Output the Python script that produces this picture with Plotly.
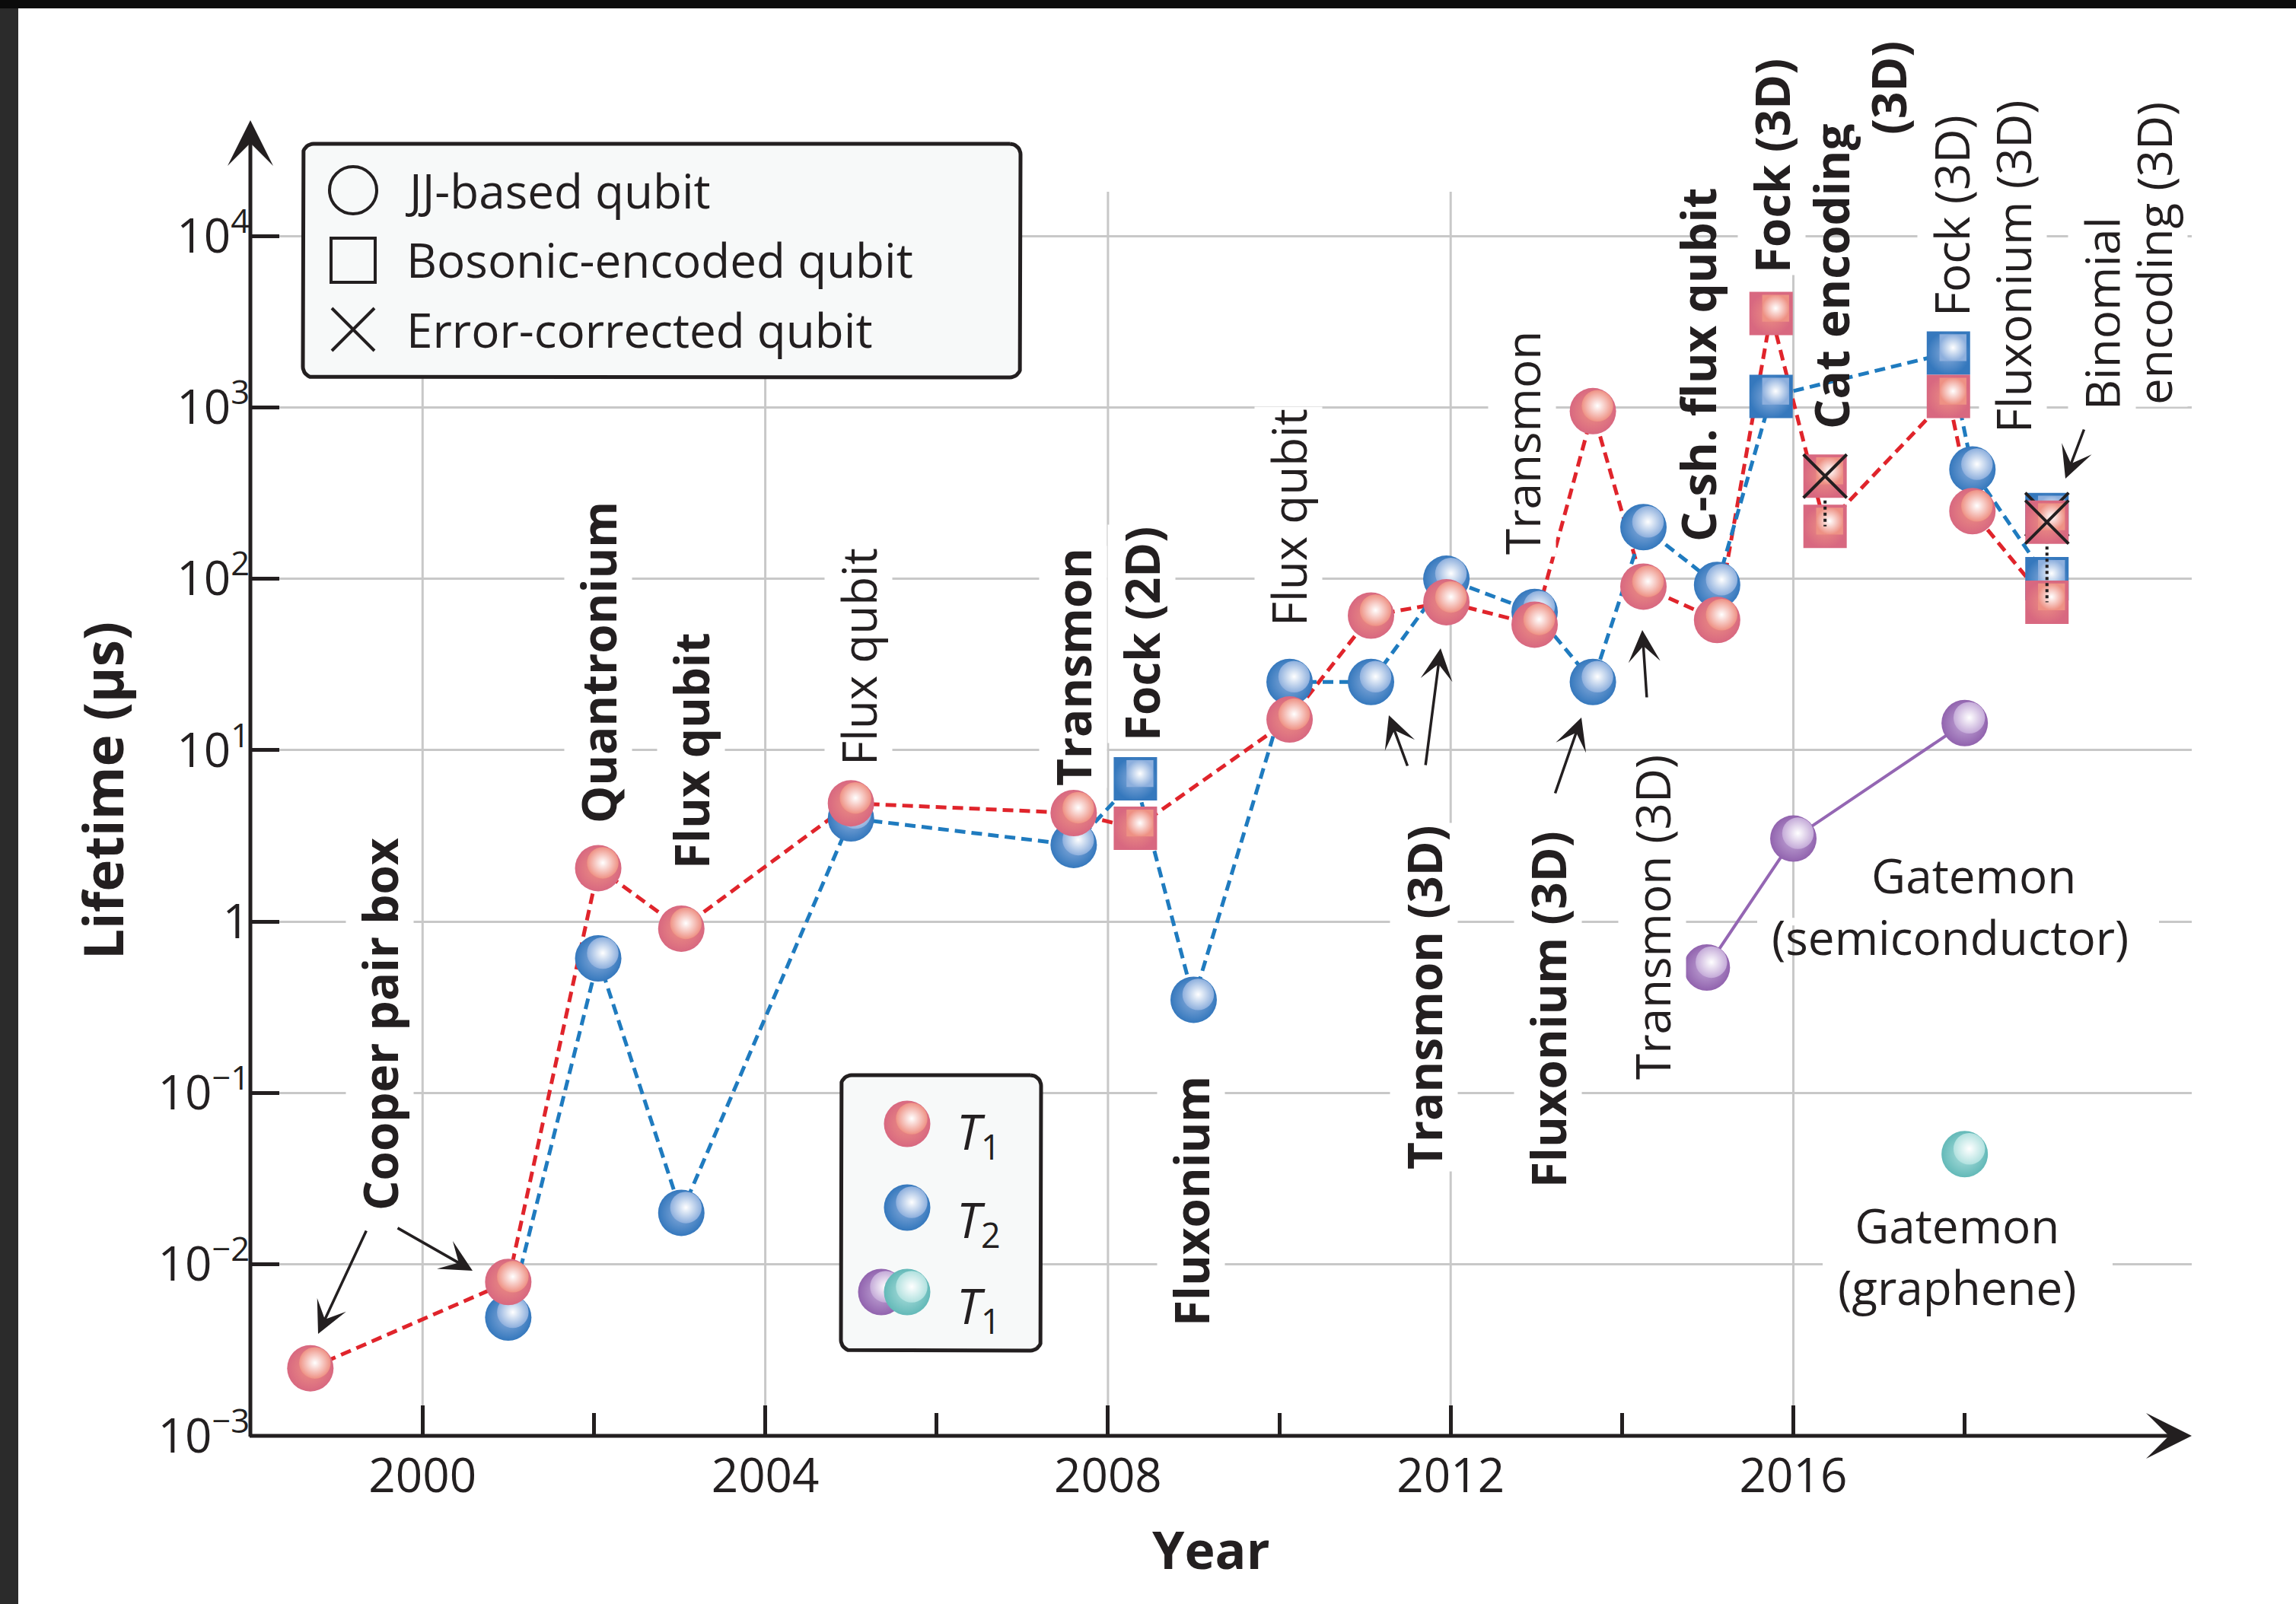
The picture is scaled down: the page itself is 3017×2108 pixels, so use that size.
import numpy as np
import plotly.graph_objects as go

# ---------------- data ----------------
# T1 of Josephson-junction based qubits (red spheres)
t1_jj_year = [1998.69, 2001.00, 2002.05, 2003.02, 2005.00, 2007.60, 2010.12, 2011.07,
              2011.95, 2012.98, 2013.66, 2014.25, 2015.11, 2018.09]
t1_jj = [0.00248, 0.0079, 2.05, 0.91, 4.9, 4.3, 15.1, 61, 73, 54, 950, 90, 57.5, 248]
# T2 of JJ-based qubits (blue spheres)
t2_jj_year = [2001.00, 2002.05, 2003.02, 2005.00, 2007.60, 2009.00, 2010.12, 2011.07,
              2011.95, 2012.98, 2013.66, 2014.25, 2015.11, 2018.09]
t2_jj = [0.0049, 0.61, 0.020, 4.0, 2.8, 0.35, 25, 25, 100, 64, 25, 200, 92, 434]
# bosonic-encoded qubits (squares)
t1_bos_year = [2008.32, 2015.74, 2016.37, 2017.81, 2018.96]
t1_bos = [3.5, 3525, 202, 1157, 73]
t2_bos_year = [2008.32, 2015.74, 2017.81, 2018.96]
t2_bos = [6.8, 1157, 2075, 100]
# error-corrected qubits (squares with a cross)
t1_ec_year = [2016.37, 2018.96]
t1_ec = [397, 214]
t2_ec_year = [2018.96]
t2_ec = [237]
# gatemons
gate_semi_year = [2014.99, 2016.00, 2018.00]
gate_semi = [0.54, 3.05, 14.4]
gate_gr_year = [2018.00]
gate_gr = [0.044]

x_tick_years = [2000, 2004, 2008, 2012, 2016]
x_minor_years = [2002, 2006, 2010, 2014, 2018]
y_tick_vals = [1e-3, 1e-2, 1e-1, 1, 1e1, 1e2, 1e3, 1e4]
y_tick_text = ["10<sup>\u22123</sup>", "10<sup>\u22122</sup>", "10<sup>\u22121</sup>", "1",
               "10<sup>1</sup>", "10<sup>2</sup>", "10<sup>3</sup>", "10<sup>4</sup>"]

# ---------------- layout constants ----------------
W, H = 3017, 2108
L, R, T, B = 329, 137, 158, 221
PW, PH = W - L - R, H - T - B
XR = [1997.99, 2020.65]
YR = [-3.0, 4.675]
PX_YEAR = PW / (XR[1] - XR[0])
PX_DEC = PH / (YR[1] - YR[0])
FONT = "Open Sans, Noto Sans, sans-serif"
INK = "#231f20"
GRID = "#c8c8c8"
RED_LINE, BLUE_LINE, PURPLE_LINE = "#e0242b", "#1f7bbf", "#9466b3"
RED = ("#d86880", "#ee9184")
BLUE = ("#3578bd", "#8dafdd")
PURPLE = ("#9163ae", "#c4aad8")
TEAL = ("#63b9b8", "#b1e1df")


def paper(X, Y):
    return (X - L) / PW, (H - B - Y) / PH


fig = go.Figure()


def add_ball(x, y, colors, symbol="circle", size=61, axes=("x", "y")):
    edge, mid = colors
    xa, ya = axes
    if xa == "x":
        hx = [v + 6 / PX_YEAR for v in x]
        hy = [v * 10 ** (7 / PX_DEC) for v in y]
    else:
        hx = [v + 6 for v in x]
        hy = [v - 7 for v in y]
    fig.add_trace(go.Scatter(x=x, y=y, mode="markers", xaxis=xa, yaxis=ya,
                             marker=dict(symbol=symbol, size=size, color=edge,
                                         gradient=dict(type="radial", color=mid), line=dict(width=0)),
                             hoverinfo="skip", showlegend=False))
    fig.add_trace(go.Scatter(x=hx, y=hy, mode="markers", xaxis=xa, yaxis=ya,
                             marker=dict(symbol=symbol, size=size * (0.68 if symbol == "circle" else 0.62),
                                         color=mid, gradient=dict(type="radial", color="white"),
                                         line=dict(width=0)),
                             hoverinfo="skip", showlegend=False))


def merged(ay, av, by, bv):
    pts = sorted(zip(ay + by, av + bv))
    return [p[0] for p in pts], [p[1] for p in pts]


# ---- legend boxes (pixel overlay axes) ----
def rrect(x0, y0, x1, y1, r, n=10):
    xs, ys = [], []
    for cx, cy, a0, a1 in [(x1 - r, y0 + r, -90, 0), (x1 - r, y1 - r, 0, 90),
                           (x0 + r, y1 - r, 90, 180), (x0 + r, y0 + r, 180, 270)]:
        t = np.radians(np.linspace(a0, a1, n))
        xs += list(cx + r * np.cos(t))
        ys += list(cy + r * np.sin(t))
    xs.append(xs[0]); ys.append(ys[0])
    return xs, ys


for box in [(398, 189, 1341, 496), (1105, 1413, 1368, 1775)]:
    bx, by = rrect(*box, 14)
    fig.add_trace(go.Scatter(x=bx, y=by, mode="lines", fill="toself", fillcolor="#f7f9f9",
                             line=dict(color=INK, width=5), xaxis="x2", yaxis="y2",
                             hoverinfo="skip", showlegend=False))

# ---- data lines ----
lx, ly = merged(t1_jj_year, t1_jj, t1_bos_year, t1_bos)
fig.add_trace(go.Scatter(x=lx, y=ly, mode="lines", line=dict(color=RED_LINE, width=5, dash="14px,8px"),
                         hoverinfo="skip", showlegend=False))
lx, ly = merged(t2_jj_year, t2_jj, t2_bos_year, t2_bos)
fig.add_trace(go.Scatter(x=lx, y=ly, mode="lines", line=dict(color=BLUE_LINE, width=5, dash="14px,8px"),
                         hoverinfo="skip", showlegend=False))
fig.add_trace(go.Scatter(x=gate_semi_year, y=gate_semi, mode="lines", line=dict(color=PURPLE_LINE, width=4),
                         hoverinfo="skip", showlegend=False))

# ---- markers ----
add_ball(t2_jj_year, t2_jj, BLUE)
add_ball(t2_bos_year, t2_bos, BLUE, symbol="square", size=57)
add_ball(t1_jj_year, t1_jj, RED)
add_ball(t1_bos_year, t1_bos, RED, symbol="square", size=57)
add_ball(gate_semi_year, gate_semi, PURPLE)
add_ball(gate_gr_year, gate_gr, TEAL)

# dotted connectors between error-corrected and bare encodings
cx, cy = [], []
for yr, v in zip(t1_ec_year, t1_ec):
    j = t1_bos_year.index(yr)
    cx += [yr, yr, None]
    cy += [v, t1_bos[j], None]
fig.add_trace(go.Scatter(x=cx, y=cy, mode="lines", line=dict(color=INK, width=4, dash="dot"),
                         hoverinfo="skip", showlegend=False))

X_MARK = dict(symbol="x-thin", size=57, color=INK, line=dict(width=4, color=INK))
add_ball(t2_ec_year, t2_ec, BLUE, symbol="square", size=57)
fig.add_trace(go.Scatter(x=t2_ec_year, y=t2_ec, mode="markers", marker=X_MARK,
                         hoverinfo="skip", showlegend=False))
add_ball(t1_ec_year, t1_ec, RED, symbol="square", size=57)
fig.add_trace(go.Scatter(x=t1_ec_year, y=t1_ec, mode="markers", marker=X_MARK,
                         hoverinfo="skip", showlegend=False))

# ---- legend keys ----
fig.add_trace(go.Scatter(x=[464], y=[250], mode="markers", xaxis="x2", yaxis="y2",
                         marker=dict(symbol="circle-open", size=62, color=INK, line=dict(width=4, color=INK)),
                         hoverinfo="skip", showlegend=False))
fig.add_trace(go.Scatter(x=[464], y=[342], mode="markers", xaxis="x2", yaxis="y2",
                         marker=dict(symbol="square-open", size=58, color=INK, line=dict(width=4, color=INK)),
                         hoverinfo="skip", showlegend=False))
fig.add_trace(go.Scatter(x=[464], y=[433], mode="markers", xaxis="x2", yaxis="y2",
                         marker=dict(symbol="x-thin", size=56, color=INK, line=dict(width=4, color=INK)),
                         hoverinfo="skip", showlegend=False))
add_ball([1192], [1477], RED, axes=("x2", "y2"))
add_ball([1192], [1587], BLUE, axes=("x2", "y2"))
add_ball([1158], [1698], PURPLE, axes=("x2", "y2"))
add_ball([1192], [1698], TEAL, axes=("x2", "y2"))

# ---------------- annotations ----------------
ann = []


def label(text, X, Y, bold=False, angle=-90, size=62, bg=True, xanchor="center"):
    xp, yp = paper(X, Y)
    ann.append(dict(text=f"<b>{text}</b>" if bold else text, x=xp, y=yp, xref="paper", yref="paper",
                    showarrow=False, textangle=angle, xanchor=xanchor, yanchor="middle",
                    font=dict(size=size, family=FONT, color=INK),
                    bgcolor="white" if bg else "rgba(0,0,0,0)", borderpad=2))


def arrow(hx, hy, tx, ty, width=3.5, size=2.0):
    xp, yp = paper(hx, hy)
    ann.append(dict(text="", x=xp, y=yp, xref="paper", yref="paper", showarrow=True,
                    ax=tx - hx, ay=ty - hy, axref="pixel", ayref="pixel",
                    arrowhead=3, arrowsize=size, arrowwidth=width, arrowcolor=INK, standoff=0))


rot_labels = [
    ("Cooper pair box", 499, 1346, True, True),
    ("Quantronium", 786, 871, True, True),
    ("Flux qubit", 908, 987, True, True),
    ("Flux qubit", 1128, 863, False, True),
    ("Transmon", 1410, 877, True, True),
    ("Fock (2D)", 1500, 833, True, True),
    ("Fluxonium", 1565, 1579, True, True),
    ("Flux qubit", 1693, 680, False, True),
    ("Transmon (3D)", 1871, 1311, True, True),
    ("Transmon", 2000, 582, False, True),
    ("Fluxonium (3D)", 2034, 1327, True, True),
    ("Transmon (3D)", 2171, 1206, False, True),
    ("C-sh. flux qubit", 2231, 480, True, False),
    ("Fock (3D)", 2328, 218, True, True),
    ("Cat encoding", 2406, 363, True, False),
    ("(3D)", 2481, 116, True, True),
    ("Fock (3D)", 2564, 284, False, True),
    ("Fluxonium (3D)", 2645, 350, False, True),
    ("Binomial", 2762, 412, False, True),
    ("encoding (3D)", 2830, 333, False, True),
]
for txt, X, Y, bold, bg in rot_labels:
    label(txt, X, Y, bold=bold, bg=bg)

label("\u2003Gatemon<br>(semiconductor)", 2562, 1190, angle=0, bg=False)
label("Gatemon<br>(graphene)", 2572, 1650, angle=0, bg=False)

for hx, hy, tx, ty in [(418, 1753, 482, 1616), (621, 1670, 521, 1613), (1825, 940, 1850, 1008),
                       (1893, 852, 1873, 1007), (2078, 943, 2043, 1044), (2158, 828, 2164, 918),
                       (2714, 629, 2739, 563)]:
    arrow(hx, hy, tx, ty)

# axes with arrowheads
arrow(L, T, L, H - B + 2.5, width=5, size=2.0)
arrow(L + PW, H - B, L - 2.5, H - B, width=5, size=2.0)

# axis titles
label("Lifetime (\u03bcs)", 134, 1039, bold=True, size=71, bg=False)
label("Year", 1591, 2035, bold=True, angle=0, size=68, bg=False)

# legend texts
for txt, X, Y in [("JJ-based qubit", 530, 250), ("Bosonic-encoded qubit", 531, 341),
                  ("Error-corrected qubit", 531, 433)]:
    label(txt, X, Y, angle=0, bg=False, xanchor="left")
for txt, X, Y in [("<i>T</i><sub>1</sub>", 1254, 1490), ("<i>T</i><sub>2</sub>", 1254, 1606),
                  ("<i>T</i><sub>1</sub>", 1254, 1719)]:
    label(txt, X, Y, angle=0, bg=False, xanchor="left", size=64)

# ---------------- shapes: vertical gridlines, gridline breaks, dark frame ----------------
shapes = []
for yr in x_tick_years:
    shapes.append(dict(type="line", xref="x", yref="paper", x0=yr, x1=yr, y0=0,
                       y1=(H - B - 252) / PH, line=dict(color=GRID, width=3), layer="below"))
for X0, X1, Yc in [(2309, 2837, 1211.2), (2395, 2776, 1661.7)]:
    a0, b0 = paper(X0, Yc + 5)
    a1, b1 = paper(X1, Yc - 5)
    shapes.append(dict(type="rect", xref="paper", yref="paper", x0=a0, x1=a1, y0=b0, y1=b1,
                       fillcolor="white", line=dict(width=0), layer="above"))
x0p, _ = paper(0, 0)
x1p, _ = paper(W, 0)
xl, _ = paper(24, 0)
_, ytop = paper(0, 0)
_, ystrip = paper(0, 11)
_, ybot = paper(0, H)
shapes.append(dict(type="rect", xref="paper", yref="paper", x0=x0p, x1=xl, y0=ybot, y1=ytop,
                   fillcolor="#2b2b2b", line=dict(width=0), layer="above"))
shapes.append(dict(type="rect", xref="paper", yref="paper", x0=x0p, x1=x1p, y0=ystrip, y1=ytop,
                   fillcolor="#0b0b0b", line=dict(width=0), layer="above"))

fig.update_layout(
    width=W, height=H, autosize=False,
    margin=dict(l=L, r=R, t=T, b=B, pad=0),
    paper_bgcolor="white", plot_bgcolor="white", showlegend=False,
    font=dict(family=FONT, color=INK, size=62),
    annotations=ann, shapes=shapes,
    xaxis=dict(range=XR, showgrid=False, zeroline=False, showline=False, ticks="inside",
               tickvals=x_tick_years, ticktext=[str(v) for v in x_tick_years],
               ticklen=40, tickwidth=5, tickcolor=INK, tickfont=dict(size=62, family=FONT, color=INK),
               ticklabelstandoff=11,
               minor=dict(tickvals=x_minor_years, ticks="inside", ticklen=30, tickwidth=5,
                          tickcolor=INK, showgrid=False),
               fixedrange=True),
    yaxis=dict(type="log", range=YR, showgrid=True, gridcolor=GRID, gridwidth=3, zeroline=False,
               showline=False, ticks="inside", tickvals=y_tick_vals, ticktext=y_tick_text,
               ticklen=38, tickwidth=5, tickcolor=INK, tickfont=dict(size=62, family=FONT, color=INK),
               fixedrange=True),
    xaxis2=dict(overlaying="x", anchor="y2", range=[L, L + PW], visible=False, fixedrange=True),
    yaxis2=dict(overlaying="y", anchor="x2", range=[H - B, T], visible=False, fixedrange=True),
)

fig.write_html("out.html", config={"displayModeBar": False},
               post_script="document.body.style.margin='0';document.body.style.overflow='hidden';")
